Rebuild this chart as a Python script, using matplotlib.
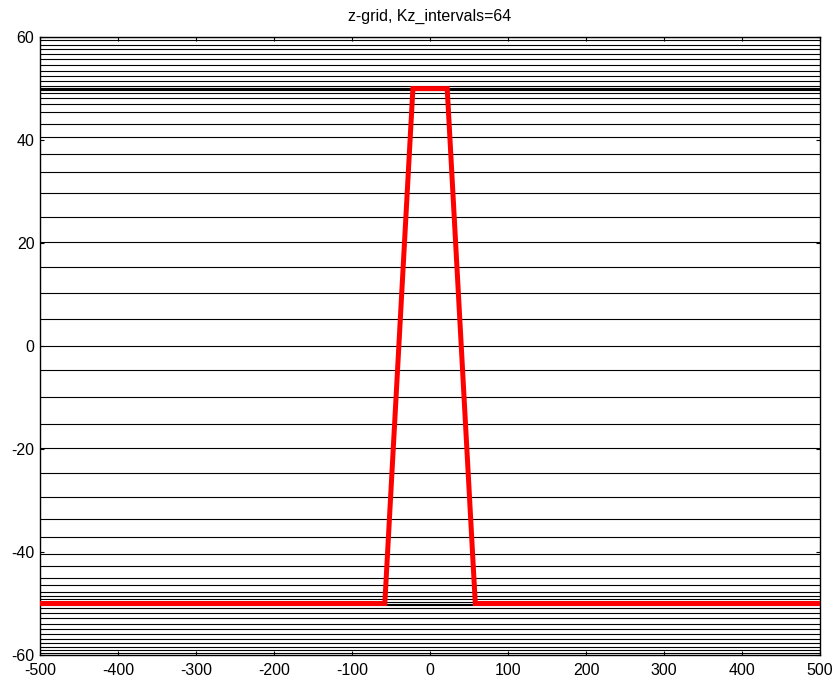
import matplotlib
matplotlib.use("Agg")
import matplotlib.pyplot as plt

plt.rcParams['font.family'] = ['Liberation Sans', 'DejaVu Sans']
plt.rcParams['axes.unicode_minus'] = False

title = "z-grid, Kz_intervals=64"

# horizontal z-grid levels
z_levels_top = [60.0, 59.5, 58.5, 57.7, 56.7, 55.7, 54.6, 53.5, 52.4, 51.5, 50.6,
                50.2, 50.0, 49.7, 49.1, 48.2, 47.0, 45.4, 43.1, 40.6, 37.3,
                33.8, 29.7, 25.0, 20.2, 15.3, 10.3, 5.2, 0.0]
z_levels_bottom = [-4.7, -9.9, -15.1, -19.8, -24.7, -29.4, -33.5, -37.0, -40.3,
                   -42.7, -45.0, -46.5, -47.8, -48.5, -49.2, -49.7, -50.0,
                   -50.3, -50.8, -51.8, -52.9, -54.0, -55.0, -56.0, -56.9,
                   -57.7, -58.4, -59.0, -59.6, -60.0]

# bathymetry profile (red)
bath_x = [-500, -58, -22, 22, 58, 500]
bath_z = [-50, -50, 50, 50, -50, -50]

xticks = [-500, -400, -300, -200, -100, 0, 100, 200, 300, 400, 500]
yticks = [-60, -40, -20, 0, 20, 40, 60]

fig = plt.figure(figsize=(8.37, 6.82), dpi=100)
ax = fig.add_axes([0.0478, 0.0396, 0.932, 0.906])

for z in z_levels_top + z_levels_bottom:
    ax.axhline(z, color='black', linewidth=0.8, zorder=1)

ax.plot(bath_x, bath_z, color='red', linewidth=3.6, zorder=3, solid_joinstyle='miter')

ax.set_xlim(-500, 500)
ax.set_ylim(-60, 60)
ax.set_xticks(xticks)
ax.set_yticks(yticks)
ax.tick_params(direction='in', top=True, right=True, length=3, width=0.8,
               labelsize=11.5)
ax.tick_params(axis='x', pad=6)
ax.tick_params(axis='y', pad=4)
for s in ax.spines.values():
    s.set_linewidth(1.0)
ax.set_title(title, fontsize=11.5, pad=12)

fig.savefig("out.png", dpi=100)
